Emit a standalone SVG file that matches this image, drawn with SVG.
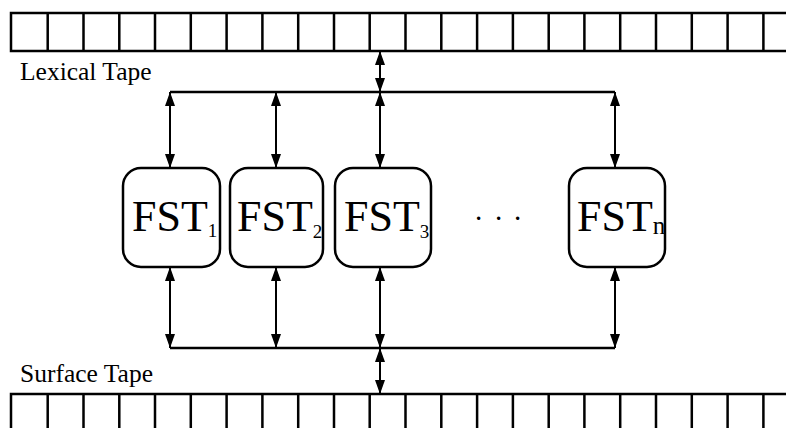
<svg xmlns="http://www.w3.org/2000/svg" width="786" height="428" viewBox="0 0 786 428">
<style>
.tape{fill:none;stroke:#000;stroke-width:2.5}
.cell{stroke:#000;stroke-width:2.5}
.box{fill:#fff;stroke:#000;stroke-width:2.5}
.bar{fill:none;stroke:#000;stroke-width:2.5}
.arr{stroke:#000;stroke-width:2;marker-start:url(#ah);marker-end:url(#ah)}
.lbl{font-family:"Liberation Serif","Times New Roman",serif;font-size:25.5px;fill:#000}
.fst{font-family:"Liberation Serif","Times New Roman",serif;font-size:44px;fill:#000}
.sub{font-size:19px}
</style>
<defs>
<marker id="ah" markerUnits="userSpaceOnUse" markerWidth="14" markerHeight="10" refX="14" refY="5" orient="auto-start-reverse">
<path d="M0,0 L14,5 L0,10 z" fill="#000"/>
</marker>
</defs>
<g id="lexical-tape">
<path class="tape" d="M790,13 H11 V51 H790"/>
<g class="cell">
<path d="M47.7,13V51M83.5,13V51M119.3,13V51M155,13V51M190.8,13V51M226.6,13V51M262.4,13V51M298.2,13V51M334,13V51M369.7,13V51M405.5,13V51M441.3,13V51M477.1,13V51M512.9,13V51M548.7,13V51M584.4,13V51M620.2,13V51M656,13V51M691.8,13V51M727.6,13V51M763.4,13V51"/>
</g>
<text class="lbl" x="20" y="80">Lexical Tape</text>
</g>
<g id="surface-tape">
<path class="tape" d="M790,394 H11 V430"/>
<g class="cell">
<path d="M47.7,394V430M83.5,394V430M119.3,394V430M155,394V430M190.8,394V430M226.6,394V430M262.4,394V430M298.2,394V430M334,394V430M369.7,394V430M405.5,394V430M441.3,394V430M477.1,394V430M512.9,394V430M548.7,394V430M584.4,394V430M620.2,394V430M656,394V430M691.8,394V430M727.6,394V430M763.4,394V430"/>
</g>
<text class="lbl" x="20" y="382">Surface Tape</text>
</g>
<g id="connectors">
<path class="bar" d="M170,92 H615"/>
<path class="bar" d="M170,348 H615"/>
<line class="arr" x1="380" y1="51" x2="380" y2="92"/>
<line class="arr" x1="380" y1="348" x2="380" y2="394"/>
<line class="arr" x1="170" y1="92" x2="170" y2="168"/>
<line class="arr" x1="276" y1="92" x2="276" y2="168"/>
<line class="arr" x1="380" y1="92" x2="380" y2="168"/>
<line class="arr" x1="615" y1="92" x2="615" y2="168"/>
<line class="arr" x1="170" y1="267" x2="170" y2="348"/>
<line class="arr" x1="276" y1="267" x2="276" y2="348"/>
<line class="arr" x1="380" y1="267" x2="380" y2="348"/>
<line class="arr" x1="615" y1="267" x2="615" y2="348"/>
</g>
<g id="fst1">
<rect class="box" x="123" y="168" width="97" height="99" rx="18"/>
<text class="fst" x="132" y="231">FST<tspan class="sub" dy="6">1</tspan></text>
</g>
<g id="fst2">
<rect class="box" x="230" y="168" width="93" height="99" rx="18"/>
<text class="fst" x="237" y="231">FST<tspan class="sub" dy="7">2</tspan></text>
</g>
<g id="fst3">
<rect class="box" x="335" y="168" width="96" height="99" rx="18"/>
<text class="fst" x="344" y="231">FST<tspan class="sub" dy="7">3</tspan></text>
</g>
<g id="dots">
<text class="fst" x="476 496 515" y="219.5" style="font-size:21px;font-weight:bold">...</text>
</g>
<g id="fstn">
<rect class="box" x="569" y="168" width="96" height="99" rx="18"/>
<text class="fst" x="577" y="231">FST<tspan dy="3" style="font-size:25px">n</tspan></text>
</g>
</svg>
